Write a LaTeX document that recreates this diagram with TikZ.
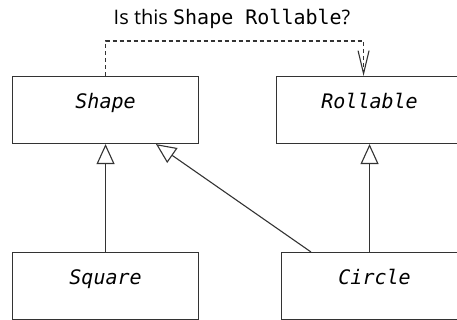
\documentclass[tikz,border=0pt]{standalone}
\usepackage{fontspec}
\setmainfont{Open Sans}
\setmonofont{DejaVu Sans Mono}
\usetikzlibrary{arrows.meta,calc}
\begin{document}
\begin{tikzpicture}[x=1pt,y=-1pt,
  line width=1.1pt,
  classbox/.style={draw=black!80, rectangle, inner sep=0pt, anchor=north west,
    minimum width=186pt, minimum height=67pt,
    text height=32pt, text depth=35pt,
    font=\fontsize{20}{24}\selectfont\ttfamily\itshape},
  inherits/.style={draw=black!80,
    -{Triangle[open, length=20pt, width=18pt, fill=white]}},
  dependency/.style={draw=black!80, dash pattern=on 4pt off 3pt,
    -{Straight Barb[length=23pt, width=11pt]}}
]
\useasboundingbox (0,0) rectangle (457,320);

% class boxes
\node[classbox] (shape)    at (12,76)   {Shape};
\node[classbox] (rollable) at (276,76)  {Rollable};
\node[classbox] (square)   at (12,252)  {Square};
\node[classbox] (circle)   at (281,252) {Circle};

% question above the diagram
\node[anchor=base, inner sep=0pt, font=\fontsize{20}{24}\selectfont] (question)
  at (232,25) {Is this \texttt{Shape Rollable}?};

% generalisation arrows
\draw[inherits] (square.north) -- (shape.south);
\draw[inherits] (circle.north -| rollable.south) -- (rollable.south);
\coordinate (circleleft) at ($(circle.north west)+(30,0)$);
\coordinate (shaperight) at ($(shape.south west)+(144,0)$);
\draw[inherits] (circleleft) -- (shaperight);

% dashed question connector
\coordinate (rolltop) at ($(rollable.north)+(-6,0)$);
\coordinate (bendA) at (shape.north |- 0,41);
\coordinate (bendB) at (rolltop |- 0,41);
\draw[dependency] (shape.north) -- (bendA) -- (bendB) -- (rolltop);
\end{tikzpicture}
\end{document}
